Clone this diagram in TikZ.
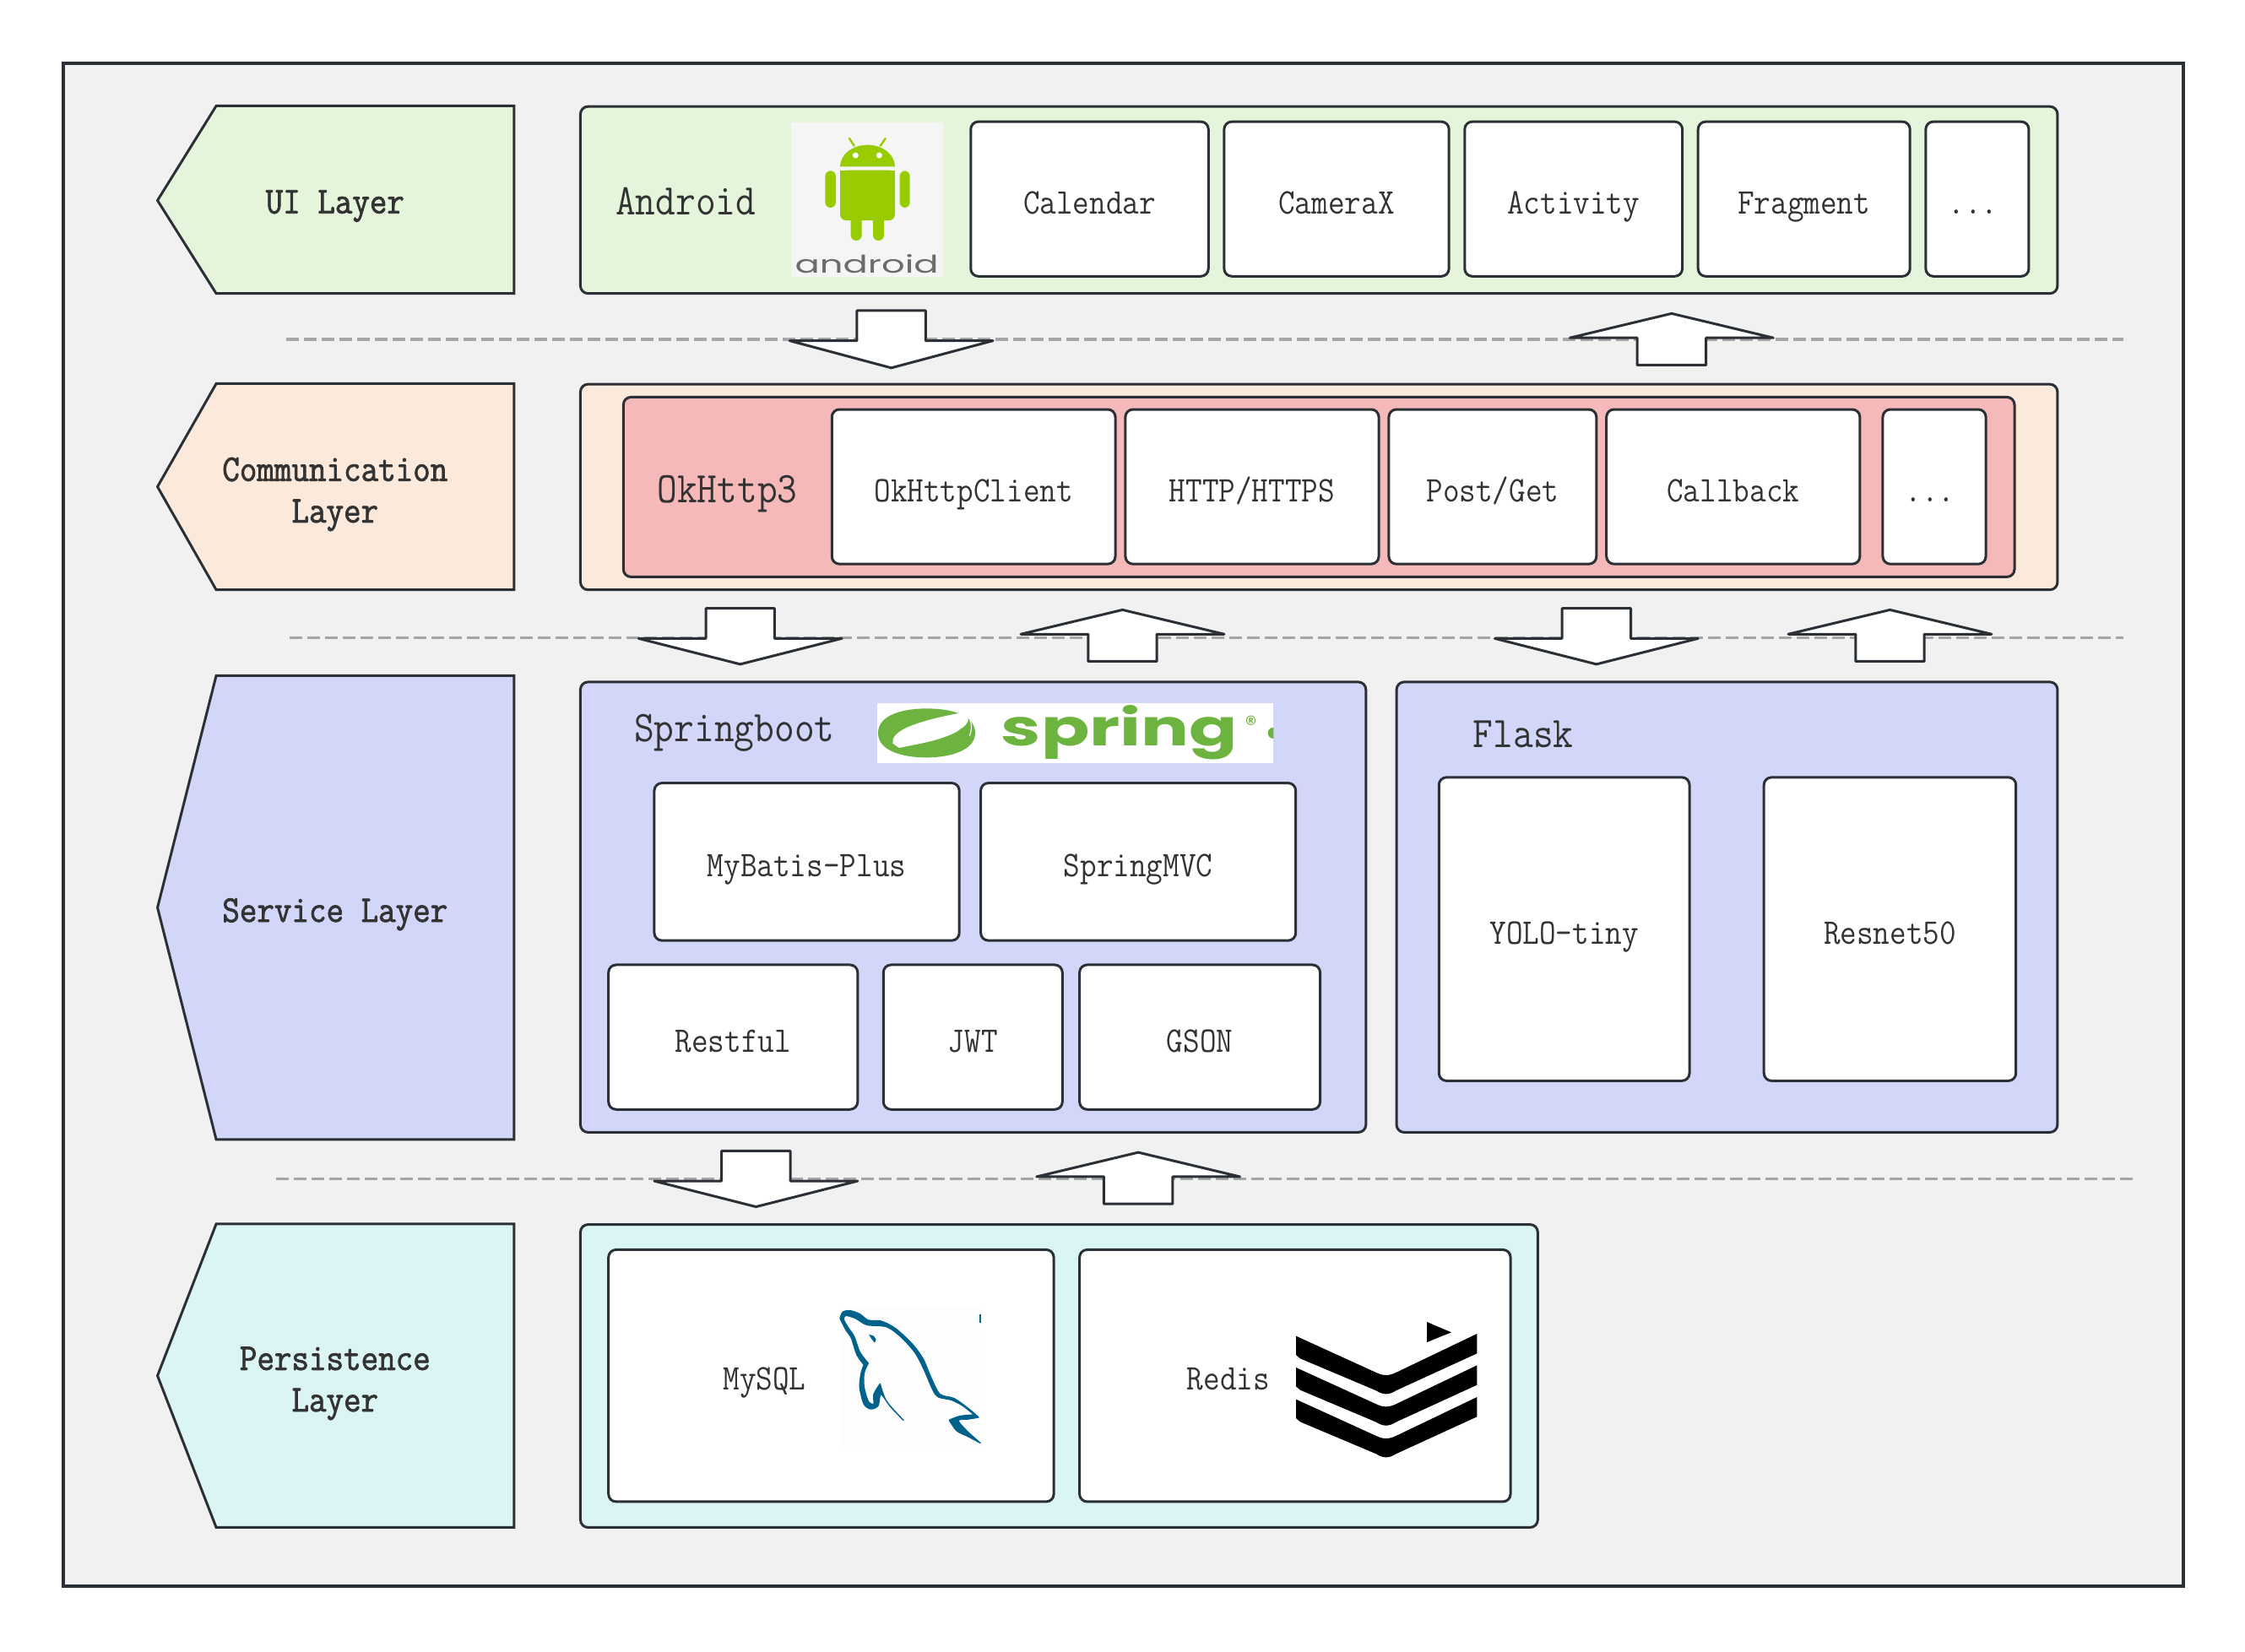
\documentclass[tikz,border=0pt]{standalone}
\usepackage{fontspec}
\newfontfamily\logofont{Poppins}
\newfontfamily\cmono[FakeStretch=0.89]{Latin Modern Mono}
\newfontfamily\bmono[FakeStretch=0.89,FakeBold=1.7]{Latin Modern Mono}
\definecolor{ink}{HTML}{2A3036}
\definecolor{txt}{HTML}{333333}
\definecolor{frame}{HTML}{F1F1F1}
\definecolor{uig}{HTML}{E5F5DC}
\definecolor{comm}{HTML}{FBE9DB}
\definecolor{redb}{HTML}{F5B9B9}
\definecolor{serv}{HTML}{D2D6F9}
\definecolor{pers}{HTML}{DAF5F4}
\definecolor{dashc}{HTML}{A6A6A6}
\definecolor{andg}{HTML}{99CC00}
\definecolor{andbg}{HTML}{F5F5F5}
\definecolor{sprg}{HTML}{6DB33F}
\definecolor{dolph}{HTML}{00618A}
\definecolor{dolbg}{HTML}{FDFDFD}
\tikzset{
  outline/.style={draw=ink,line width=1.5pt,line join=round},
  panel/.style={outline,rounded corners=4.5pt},
  wbox/.style={panel,fill=white,inner sep=0pt,text=txt,font=\cmono\fontsize{21.4}{23}\selectfont,text height=17.5pt,text depth=0pt},
  ltxt/.style={anchor=base,inner sep=0pt,text=txt,font=\bmono\fontsize{22.4}{24}\selectfont},
  btxt/.style={anchor=base,inner sep=0pt,text=txt,font=\cmono\fontsize{25.9}{28}\selectfont},
  rtxt/.style={anchor=base,inner sep=0pt,text=txt,font=\cmono\fontsize{21.4}{23}\selectfont},
  sep/.style={draw=dashc,line width=1.8pt,dash pattern=on 7.5pt off 3pt},
  block/.style={outline,fill=white},
  logoscope/.style={x=0.5pt,y=-0.5pt,shift={#1},x=0.16667pt,y=-0.16667pt},
}
% name, x1, y1, x2, y2, text
\newcommand{\wb}[6]{\node[wbox,minimum width={(#4-#2)*0.8479pt},minimum height={(#5-#3)*0.8479pt}] (#1) at ({(#2+#4)/2},{(#3+#5)/2}) {#6};}
\newcommand{\pn}[6]{\draw[panel,fill=#6] (#2,#3) rectangle (#4,#5) coordinate (#1);}
\newcommand{\chev}[4]{\draw[outline,line join=miter,fill=#4] (110,#1) -- (151,#2) -- (359,#2) -- (359,#3) -- (151,#3) -- cycle;}
\newcommand{\dnblock}[3]{\draw[block] ({#1-24},#2) -- ({#1+24},#2) -- ({#1+24},{#2+21}) -- ({#1+71},{#2+21}) -- (#1,#3) -- ({#1-71},{#2+21}) -- ({#1-24},{#2+21}) -- cycle;}
\newcommand{\upblock}[3]{\draw[block] (#1,#2) -- ({#1+71},{#2+17}) -- ({#1+24},{#2+17}) -- ({#1+24},#3) -- ({#1-24},#3) -- ({#1-24},{#2+17}) -- ({#1-71},{#2+17}) -- cycle;}
\begin{document}
\begin{tikzpicture}[x=0.8479pt,y=-0.8479pt]
\useasboundingbox (0,0) rectangle (1568,1153.45);
\fill[white] (0,0) rectangle (1568,1153.45);
\draw[draw=ink,line width=2.25pt,fill=frame] (44.2,44.2) rectangle (1525,1108);

% left layer tags
\chev{140}{74}{205}{uig}
\chev{340}{268}{412}{comm}
\chev{634}{472}{796}{serv}
\chev{961}{855}{1067}{pers}
\node[ltxt] (uil) at (234,149) {UI Layer};
\node[ltxt] (coml1) at (234,336) {Communication};
\node[ltxt] (coml2) at (234,365) {Layer};
\node[ltxt] (srvl) at (234,644) {Service Layer};
\node[ltxt] (perl1) at (234,957) {Persistence};
\node[ltxt] (perl2) at (234,986) {Layer};

% panels
\pn{p1}{405.4}{74.4}{1437}{205}{uig}
\pn{p2}{405.4}{268.4}{1437}{412}{comm}
\pn{p2i}{435.4}{277.4}{1407}{403}{redb}
\pn{p3}{405.4}{476.4}{954}{791}{serv}
\pn{p4}{975.4}{476.4}{1437}{791}{serv}
\pn{p5}{405.4}{855.4}{1074}{1067}{pers}

% dashed separators
\draw[sep] (200,237) -- (1483,237);
\draw[sep] (202,445.5) -- (1483,445.5);
\draw[sep] (193,823.5) -- (1490,823.5);

% block arrows
\dnblock{622.5}{217}{257}
\upblock{1167.5}{219}{255}
\dnblock{517}{425}{464}
\upblock{784}{426}{462}
\dnblock{1115}{425}{464}
\upblock{1320}{426}{462}
\dnblock{528}{804}{843}
\upblock{795}{805}{841}

% headings
\node[btxt] (android) at (479,150) {Android};
\node[btxt] (okh) at (508,351) {OkHttp3};
\node[btxt] (sb) at (513,518) {Springboot};
\node[btxt] (fl) at (1064,522) {Flask};

% white boxes
\wb{cal}{678}{85}{844}{193}{Calendar}
\wb{camx}{855}{85}{1012}{193}{CameraX}
\wb{act}{1023}{85}{1175}{193}{Activity}
\wb{frag}{1186}{85}{1334}{193}{Fragment}
\wb{more1}{1345}{85}{1417}{193}{\hspace*{-5pt}...}
\wb{okc}{581}{286}{779}{394}{OkHttpClient}
\wb{http}{786}{286}{963}{394}{HTTP/HTTPS}
\wb{post}{970}{286}{1115}{394}{Post/Get}
\wb{cb}{1122}{286}{1299}{394}{Callback}
\wb{more2}{1315}{286}{1387}{394}{\hspace*{-5pt}...}
\wb{myb}{457}{547}{670}{657}{MyBatis-Plus}
\wb{smvc}{685}{547}{905}{657}{SpringMVC}
\wb{rest}{425}{674}{599}{775}{Restful}
\wb{jwt}{617}{674}{742}{775}{JWT}
\wb{gson}{754}{674}{922}{775}{GSON}
\wb{yolo}{1005}{543}{1180}{755}{YOLO-tiny}
\wb{res}{1232}{543}{1408}{755}{Resnet50}
\wb{mys}{425}{873}{736}{1049}{}
\wb{red}{754}{873}{1055}{1049}{}
\node[rtxt] (myst) at (534,971) {MySQL};
\node[rtxt] (redt) at (858,971) {Redis};

% Android logo (reference pixels)
\begin{scope}[logoscope={(900,120)}]
\fill[andbg] (110,75) rectangle (650,625);
\fill[andg] (285,232) arc[start angle=180,end angle=360,x radius=97.5,y radius=77] -- cycle;
\draw[andg,line width=1.2pt,line cap=round] (335,158) -- (318,132) (428,158) -- (446,132);
\fill[white] (340,192) circle (10.5) (424,192) circle (10.5);
\fill[andg,rounded corners=3.5pt] (285,245) -- (480,245) -- (480,423) -- (285,423) -- cycle;
\fill[andg] (285,245) rectangle (480,380);
\fill[andg,rounded corners=3.2pt] (232,247) rectangle (270,378) (497,247) rectangle (533,378) (323,400) rectangle (362,495) (402,400) rectangle (441,495);
\node[inner sep=0pt,text=black!58] (andw) at (380,578) {\resizebox{85pt}{11pt}{\logofont android}};
\end{scope}

% Spring logo
\begin{scope}[logoscope={(1020,810)}]
\fill[white] (58,68) rectangle (1465,282);
\fill[sprg] (60,175) .. controls (60,110) and (150,88) .. (232,88) .. controls (320,88) and (405,110) .. (405,175) .. controls (405,235) and (320,262) .. (232,262) .. controls (150,262) and (60,240) .. (60,175) -- cycle;
\fill[white] (112,212) .. controls (105,170) and (180,135) .. (372,100) .. controls (388,130) and (385,135) .. (350,165) .. controls (280,205) and (190,215) .. (135,228) -- cycle;
\fill[sprg] (150,228) .. controls (240,215) and (330,190) .. (358,155) .. controls (340,200) and (250,225) .. (150,235) -- cycle;
\draw[white,line width=.6pt] (372,100) .. controls (395,130) and (395,160) .. (385,185);
\node[inner sep=0pt,text=sprg] (sprw) at (918,172) {\resizebox{140pt}{24pt}{\logofont\bfseries spring}};
\node[inner sep=0pt,text=sprg] (sprr) at (1385,142) {\resizebox{7pt}{!}{\logofont ®}};
\fill[sprg] (1465,195) arc[start angle=90,end angle=270,radius=20] -- cycle;
\end{scope}

% MySQL dolphin
\begin{scope}[logoscope={(960,1520)}]
\fill[dolbg] (108,85) rectangle (603,580);
\filldraw[fill=dolph,draw=dolph,line width=.7pt,line join=round] plot[smooth,tension=.5] coordinates {(105,125) (115,103) (140,98) (175,110) (205,132) (250,135) (300,160) (360,215) (400,270) (430,340) (460,395) (510,410) (560,445) (597,477)}
  -- plot[smooth,tension=.5] coordinates {(597,477) (560,483) (525,488) (555,525) (603,568)}
  -- plot[smooth,tension=.5] coordinates {(603,568) (560,545) (520,525) (493,487)}
  -- plot[smooth,tension=.5] coordinates {(493,487) (530,473) (582,468)}
  -- plot[smooth,tension=.5] coordinates {(582,468) (540,435) (500,415) (455,405) (435,380) (400,300) (370,245) (320,190) (270,155) (200,148) (160,125) (125,115) (118,130) (135,160) (155,190) (175,245) (205,285)}
  -- plot[smooth,tension=.5] coordinates {(205,285) (190,320) (190,370) (205,420) (225,430) (225,395) (247,358)}
  -- plot[smooth,tension=.5] coordinates {(247,358) (270,420) (330,487)}
  -- plot[smooth,tension=.5] coordinates {(330,487) (285,440) (250,395) (240,435) (215,447) (190,430) (175,370) (180,320) (190,290)}
  -- plot[smooth,tension=.5] coordinates {(190,290) (165,255) (145,195) (125,165) (105,125)} -- cycle;
\fill[dolph] (207,182) -- (225,188) -- (233,200) -- (228,212) -- (218,200) -- cycle;
\fill[dolph] (601,112) rectangle (606,142);
\end{scope}

% Stack logo
\begin{scope}[logoscope={(1500,1540)}]
\fill[black] (570,78) -- (657,115) -- (570,150) -- cycle;
\foreach \dy in {0,112,225}{
\fill[black] (105,{128+\dy}) -- (390,{258+\dy}) .. controls (415,{270+\dy}) and (435,{270+\dy}) .. (460,{258+\dy}) -- (748,{120+\dy}) -- (748,{190+\dy}) -- (460,{322+\dy}) .. controls (435,{338+\dy}) and (415,{338+\dy}) .. (390,{322+\dy}) -- (120,{208+\dy}) -- (105,{195+\dy}) -- cycle;}
\end{scope}
\end{tikzpicture}
\end{document}
